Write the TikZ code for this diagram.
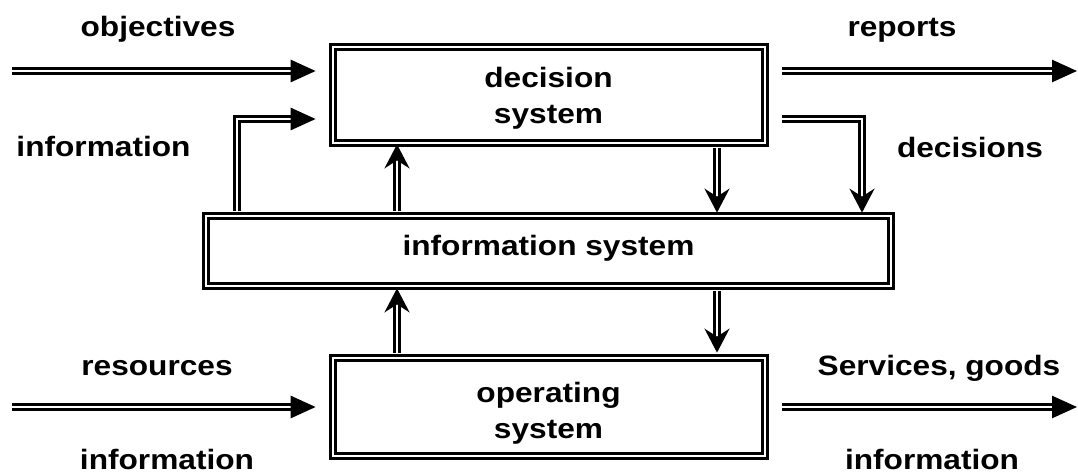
\documentclass[tikz,border=0pt]{standalone}
\usepackage{fontspec}
\setmainfont{Liberation Sans}[FakeStretch=1.13]
\usetikzlibrary{arrows.meta}
\tikzset{
  dline/.style={draw=black, line width=2.7pt, double=white, double distance=2.7pt},
  sysbox/.style={dline, rectangle, inner sep=0pt},
  boxtext/.style={inner sep=0pt, align=center, font=\fontsize{28}{36}\selectfont\bfseries},
  lbl/.style={anchor=base, inner sep=0pt, font=\fontsize{28}{33}\selectfont\bfseries},
  htip/.style={-{Triangle[length=25pt,width=22pt]}},
  vtip/.style={-{Stealth[length=24pt,width=25pt,inset=8pt]}}
}
\begin{document}
\begin{tikzpicture}[x=1pt,y=-1pt]
\useasboundingbox (0,0) rectangle (1078,473);
% boxes
\node[sysbox, minimum width=432pt, minimum height=96pt] (dec) at (549,95) {};
\node[sysbox, minimum width=685pt, minimum height=70pt] (info) at (548.5,251) {};
\node[sysbox, minimum width=432pt, minimum height=98pt] (op) at (549,407) {};
% box texts
\node[boxtext] (decT) at (548.5,98) {decision\\system};
\node[lbl] (infoT) at (548.5,255.5) {information system};
\node[boxtext] (opT) at (548.5,413) {operating\\system};
% helper coordinates
\coordinate (objS) at (12,71);
\coordinate (repE) at (1077,71);
\coordinate (resS) at (12,407);
\coordinate (serE) at (1077,407);
\coordinate (c1) at (237,119);
\coordinate (c2) at (862,119);
\coordinate (xa) at (397,0);
\coordinate (xb) at (717,0);
% horizontal arrows
\draw[dline, htip, shorten >=16pt] (objS) -- (objS -| dec.west);
\draw[dline, htip, shorten <=16pt] (repE -| dec.east) -- (repE);
\draw[dline, htip, shorten >=16pt] (resS) -- (resS -| op.west);
\draw[dline, htip, shorten <=16pt] (serE -| op.east) -- (serE);
% elbows
\draw[dline, htip, shorten <=4pt, shorten >=16pt] (c1 |- info.north) -- (c1) -- (c1 -| dec.west);
\draw[dline, vtip, shorten <=16pt, shorten >=2pt] (c2 -| dec.east) -- (c2) -- (c2 |- info.north);
% vertical arrows
\draw[dline, vtip, shorten <=4pt] (xa |- info.north) -- (xa |- dec.south);
\draw[dline, vtip, shorten <=4pt, shorten >=2pt] (xb |- dec.south) -- (xb |- info.north);
\draw[dline, vtip, shorten <=4pt, shorten >=1pt] (xa |- op.north) -- (xa |- info.south);
\draw[dline, vtip, shorten <=4pt, shorten >=4pt] (xb |- info.south) -- (xb |- op.north);
% labels
\node[lbl] (lobj) at (158,37) {objectives};
\node[lbl] (lrep) at (902,37) {reports};
\node[lbl] (linf1) at (103.5,157) {information};
\node[lbl] (ldec) at (970,158) {decisions};
\node[lbl] (lres) at (157,375) {resources};
\node[lbl] (lser) at (939,375) {Services, goods};
\node[lbl] (linf2) at (167,469) {information};
\node[lbl] (linf3) at (932,469) {information};
\end{tikzpicture}
\end{document}
